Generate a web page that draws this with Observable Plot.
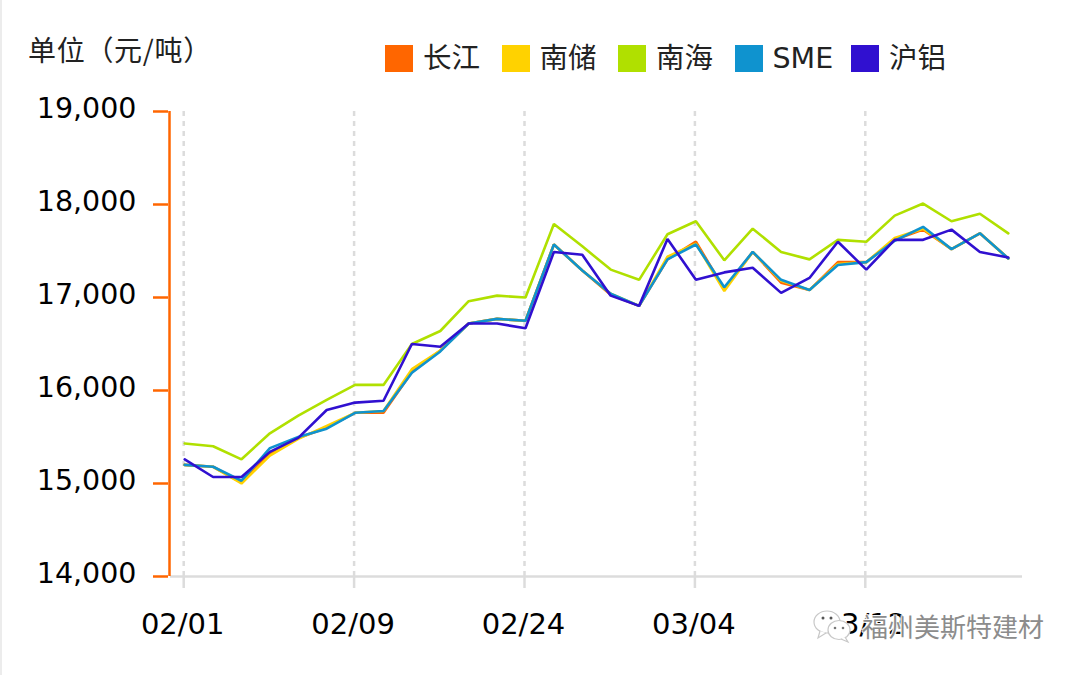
<!DOCTYPE html>
<html lang="zh">
<head>
<meta charset="utf-8">
<script src="https://cdn.jsdelivr.net/npm/d3@7"></script>
<script src="https://cdn.jsdelivr.net/npm/@observablehq/plot@0.6"></script>
<style>
  html, body { margin: 0; padding: 0; background: #fff; }
  body { width: 1080px; height: 675px; overflow: hidden; position: relative; font-family: "DejaVu Sans", sans-serif; }
  #edge { position: absolute; left: 0; top: 0; width: 2px; height: 675px; background: #ececec; }
  #head { position: relative; height: 90px; }
  #unit { position: absolute; left: 28px; top: 30px; font: 28px/38px "Noto Sans CJK SC", sans-serif; letter-spacing: .7px; color: #222; white-space: nowrap; }
  #legend { position: absolute; left: 385px; top: 38px; display: flex; align-items: center; height: 40px; }
  #legend .k { display: flex; align-items: center; width: 116.5px; }
  #legend i { display: block; width: 28px; height: 27px; margin-right: 10px; }
  #legend span { position: relative; top: 1px; font: 28.5px/40px "DejaVu Sans", "Noto Sans CJK SC", sans-serif; color: #222; white-space: nowrap; }
  #chart { position: absolute; left: 0; top: 90px; }
  #chart svg { display: block; }
  #mark { position: absolute; left: 812px; top: 608px; display: flex; align-items: center; pointer-events: none; }
  #mark svg { display: block; margin-right: 8px; }
  #mark span { font: 26px/36px "Noto Sans CJK SC", sans-serif; color: #8c8c8c; white-space: nowrap;
    text-shadow: 1px 1px 0 rgba(255,255,255,.9), -1px -1px 0 rgba(255,255,255,.9), 1px -1px 0 rgba(255,255,255,.9), -1px 1px 0 rgba(255,255,255,.9); }
</style>
</head>
<body>
<div id="edge"></div>
<div id="head">
  <div id="unit">单位（元/吨）</div>
  <div id="legend"></div>
</div>
<div id="chart"></div>
<div id="mark">
  <svg width="42" height="36" viewBox="0 0 42 36">
    <ellipse cx="15" cy="14" rx="13" ry="11" fill="#fff" stroke="#c8c8c8" stroke-width="1.2"/>
    <path d="M8 23 L6 30 L14 25" fill="#fff" stroke="#c8c8c8" stroke-width="1.2"/>
    <ellipse cx="27" cy="22" rx="11" ry="9.5" fill="#fff" stroke="#c8c8c8" stroke-width="1.2"/>
    <path d="M33 29 L36 34 L29 31" fill="#fff" stroke="#c8c8c8" stroke-width="1.2"/>
    <circle cx="11" cy="10" r="1.5" fill="#555"/><circle cx="19" cy="10" r="1.5" fill="#555"/>
    <circle cx="23" cy="20" r="1.3" fill="#777"/><circle cx="31" cy="20" r="1.3" fill="#777"/>
  </svg>
  <span>福州美斯特建材</span>
</div>
<script>
const seriesNames = ["长江", "南储", "南海", "SME", "沪铝"];
const seriesColors = ["#ff6600", "#ffd200", "#b0e000", "#0f93cf", "#3010d0"];
const tickIndex = [0, 6, 12, 18, 24];
const tickLabels = ["02/01", "02/09", "02/24", "03/04", "03/12"];
const yTicks = [14000, 15000, 16000, 17000, 18000, 19000];

const changjiang = [15200,15180,15010,15320,15490,15600,15760,15760,16200,16430,16720,16770,16750,17570,17290,17030,16910,17410,17600,17090,17490,17160,17080,17380,17380,17620,17730,17520,17690,17420];
const nanchu    = [15200,15180,15000,15300,15480,15620,15760,15780,16230,16430,16720,16770,16750,17570,17290,17040,16910,17440,17580,17070,17490,17180,17080,17360,17380,17640,17740,17520,17690,17420];
const nanhai    = [15430,15400,15260,15540,15730,15900,16060,16060,16500,16640,16960,17020,17000,17790,17550,17300,17190,17680,17820,17400,17740,17490,17410,17620,17600,17880,18010,17820,17900,17690];
const sme       = [15200,15180,15030,15380,15500,15590,15760,15780,16190,16420,16720,16770,16750,17570,17290,17040,16910,17410,17570,17110,17490,17190,17080,17350,17380,17610,17760,17520,17690,17420];
const hulv      = [15260,15070,15070,15340,15490,15790,15870,15890,16500,16470,16720,16720,16670,17490,17460,17020,16910,17630,17190,17270,17320,17050,17210,17600,17300,17620,17620,17730,17490,17430];

const allSeries = [changjiang, nanchu, nanhai, sme, hulv];
const rows = allSeries.flatMap((vals, s) => vals.map((v, i) => ({i, v, name: seriesNames[s]})));

const legend = document.getElementById("legend");
seriesNames.forEach((n, k) => {
  const d = document.createElement("div");
  d.className = "k";
  const sw = document.createElement("i");
  sw.style.background = seriesColors[k];
  const t = document.createElement("span");
  t.textContent = n;
  d.append(sw, t);
  legend.append(d);
});

const chart = Plot.plot({
  width: 1080,
  height: 585,
  marginLeft: 170,
  marginRight: 58,
  marginTop: 21,
  marginBottom: 99,
  style: {background: "transparent", fontFamily: "'DejaVu Sans', sans-serif", fontSize: "28px", color: "#000"},
  x: {domain: [-0.5, 29.5]},
  y: {domain: [14000, 19000]},
  color: {domain: seriesNames, range: seriesColors},
  marks: [
    Plot.ruleX(tickIndex, {stroke: "#dcdcdc", strokeWidth: 2.5, strokeDasharray: "5,5", dx: -1}),
    Plot.ruleY([14000], {stroke: "#dcdcdc", strokeWidth: 2.5}),
    Plot.axisX({ticks: tickIndex, tickFormat: () => "", tickSize: 12, stroke: "#dcdcdc", strokeWidth: 2.5, strokeOpacity: 1, label: null, dx: -1}),
    Plot.axisX({ticks: tickIndex, tickFormat: (d) => tickLabels[tickIndex.indexOf(d)], tickSize: 0, tickPadding: 32, fill: "#000", label: null, fontSize: 29, dx: -2, dy: 5}),
    Plot.ruleX([-0.5], {stroke: "#ff6600", strokeWidth: 2.5, dx: -1}),
    Plot.axisY({ticks: yTicks, tickFormat: () => "", tickSize: 15, stroke: "#ff6600", strokeWidth: 2.5, strokeOpacity: 1, label: null, dx: -2}),
    Plot.axisY({ticks: yTicks, tickFormat: (d) => d3.format(",")(d), tickSize: 0, tickPadding: 32, fill: "#000", label: null, fontSize: 28.5, dx: -2, dy: -3}),
    Plot.line(rows, {x: "i", y: "v", z: "name", stroke: "name", strokeWidth: 2.6, strokeLinejoin: "miter", curve: "linear"})
  ]
});
document.getElementById("chart").append(chart);
</script>
</body>
</html>
